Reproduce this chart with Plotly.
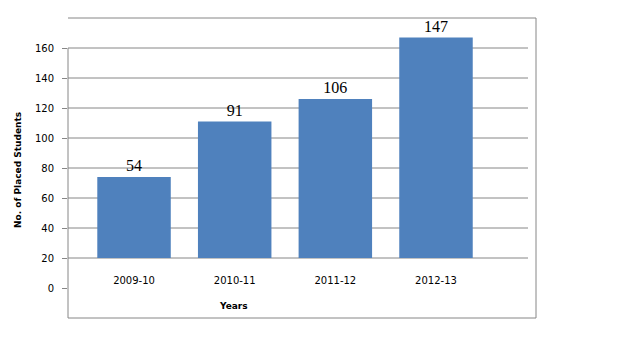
import plotly.graph_objects as go

years = ["2009-10", "2010-11", "2011-12", "2012-13"]
placed = [54, 91, 106, 147]
base_level = 20
y_ticks = [0, 20, 40, 60, 80, 100, 120, 140, 160]

W, H = 629, 351
L, R, T, B = 68, 101, 18, 33
plot_w = W - L - R
frame_ext = 8 / plot_w

grid_col = "#868686"
xs = list(range(len(years)))

fig = go.Figure()
fig.add_trace(go.Bar(
    x=xs, y=placed, base=base_level,
    marker=dict(color="#4F81BD", line=dict(width=0)),
    width=0.73,
    text=[str(v) for v in placed], textposition="outside",
    textfont=dict(family="Liberation Serif", size=16, color="#000000"),
    cliponaxis=False,
))

shapes = []
for t in y_ticks:
    if t == 0:
        continue
    shapes.append(dict(type="line", xref="paper", yref="y", x0=0, x1=1, y0=t, y1=t,
                       line=dict(color=grid_col, width=1), layer="below"))
# frame
shapes.append(dict(type="line", xref="paper", yref="paper", x0=0, x1=1 + frame_ext, y0=1, y1=1,
                   line=dict(color=grid_col, width=1)))
shapes.append(dict(type="line", xref="paper", yref="paper", x0=1 + frame_ext, x1=1 + frame_ext, y0=0, y1=1,
                   line=dict(color=grid_col, width=1)))
shapes.append(dict(type="line", xref="paper", yref="paper", x0=0, x1=1 + frame_ext, y0=0, y1=0,
                   line=dict(color=grid_col, width=1)))
shapes.append(dict(type="line", xref="paper", yref="y", x0=0, x1=0, y0=-20, y1=max(y_ticks),
                   line=dict(color=grid_col, width=1)))

fig.update_layout(
    width=W, height=H,
    margin=dict(l=L, r=R, t=T, b=B, pad=0),
    paper_bgcolor="white", plot_bgcolor="white",
    showlegend=False,
    shapes=shapes,
    font=dict(family="DejaVu Sans", size=10, color="#000000"),
    xaxis=dict(range=[-0.656, 3.914], tickvals=xs, ticktext=years,
               showgrid=False, zeroline=False, showline=False, ticks="",
               anchor="free", position=0.15,
               tickfont=dict(family="DejaVu Sans", size=10, color="#000000")),
    yaxis=dict(range=[-20, 180], tickvals=y_ticks, showgrid=False, zeroline=False,
               showline=False, ticks="outside", ticklen=5, tickcolor=grid_col,
               ticklabelstandoff=6,
               tickfont=dict(family="DejaVu Sans", size=10, color="#000000")),
    annotations=[
        dict(text="<b>Years</b>", xref="paper", yref="paper", x=(233 - L) / plot_w, y=(318 - 306) / 300,
             showarrow=False, xanchor="center", yanchor="middle",
             font=dict(family="DejaVu Sans", size=9, color="#000000")),
        dict(text="<b>No. of Placed Students</b>", xref="paper", yref="paper",
             x=(18 - L) / plot_w, y=(318 - 170) / 300, textangle=-90,
             showarrow=False, xanchor="center", yanchor="middle",
             font=dict(family="DejaVu Sans", size=9, color="#000000")),
    ],
)

fig.write_html("out.html")
